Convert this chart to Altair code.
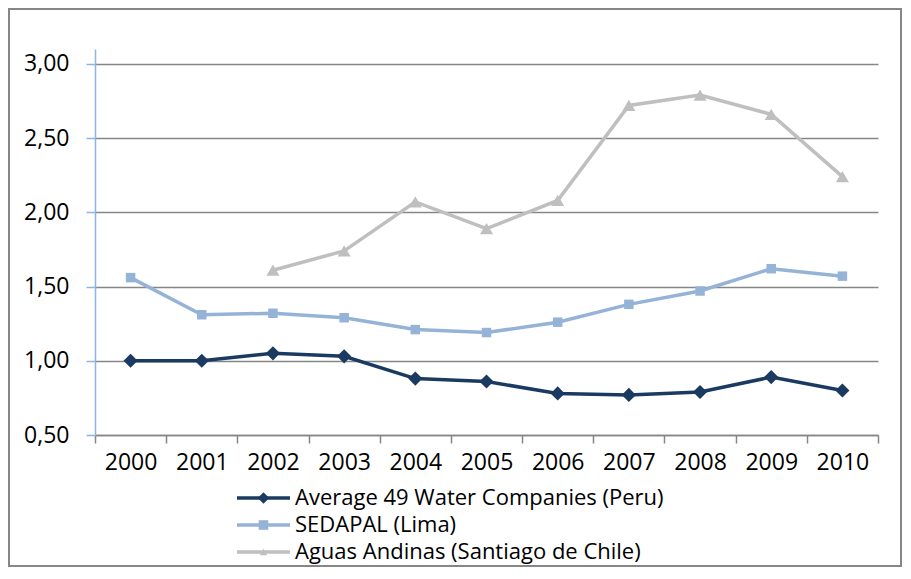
import altair as alt
import pandas as pd

years = ["2000", "2001", "2002", "2003", "2004", "2005", "2006", "2007", "2008", "2009", "2010"]
series_names = [
    "Average 49 Water Companies (Peru)",
    "SEDAPAL (Lima)",
    "Aguas Andinas (Santiago de Chile)",
]
avg49 = [1.00, 1.00, 1.05, 1.03, 0.88, 0.86, 0.78, 0.77, 0.79, 0.89, 0.80]
sedapal = [1.56, 1.31, 1.32, 1.29, 1.21, 1.19, 1.26, 1.38, 1.47, 1.62, 1.57]
aguas = [None, None, 1.61, 1.74, 2.07, 1.89, 2.08, 2.72, 2.79, 2.66, 2.24]
y_ticks = [0.5, 1.0, 1.5, 2.0, 2.5, 3.0]

colors = ["#1B3A62", "#95B3D7", "#BFBFBF"]
marker_shapes = ["diamond", "square", "triangle-up"]
marker_sizes = [200, 90, 170]
legend_marker_sizes = [130, 55, 110]

rows = []
for name, vals in zip(series_names, [avg49, sedapal, aguas]):
    for yr, v in zip(years, vals):
        rows.append({"year": yr, "series": name, "value": v})
df = pd.DataFrame(rows)
legend_df = pd.DataFrame({"series": series_names})

FONT = "Open Sans"
GRID = "#868686"
FS = 23
LFS = 22

x_enc = alt.X(
    "year:O",
    sort=years,
    bandPosition=0.5,
    scale=alt.Scale(type="band", paddingInner=0, paddingOuter=0),
    axis=alt.Axis(
        title=None, tickBand="extent", labelAngle=0, grid=False,
        domainColor=GRID, domainWidth=1.5, tickColor=GRID, tickWidth=1.5,
        tickSize=8, labelFontSize=FS, labelPadding=8, labelColor="#000000",
        labelFont=FONT,
    ),
)
y_enc = alt.Y(
    "value:Q",
    scale=alt.Scale(domain=[0.5, 3.1], nice=False, zero=False),
    axis=alt.Axis(
        title=None, values=y_ticks,
        labelExpr="replace(format(datum.value, '.2f'), '.', ',')",
        domainColor="#8DB4E2", domainWidth=1.5, tickColor="#8DB4E2",
        tickWidth=1.5, tickSize=9, grid=True, gridColor=GRID, gridWidth=1.5,
        labelFontSize=FS, labelPadding=17, labelColor="#000000", labelFont=FONT,
    ),
)
color_enc = alt.Color(
    "series:N", scale=alt.Scale(domain=series_names, range=colors), legend=None
)

base = alt.Chart(df)

lines = base.mark_line(strokeWidth=3.5).encode(x=x_enc, y=y_enc, color=color_enc)

point_layers = []
for name, shp, sz in zip(series_names, marker_shapes, marker_sizes):
    point_layers.append(
        base.mark_point(shape=shp, filled=True, size=sz, opacity=1)
        .transform_filter(alt.datum.series == name)
        .encode(x=x_enc, y=y_enc, color=color_enc)
    )

main = alt.layer(lines, *point_layers)

# legend drawn as its own small layer (rows placed by a point scale)
y_leg = alt.Y(
    "series:N",
    sort=series_names,
    scale=alt.Scale(type="point", domain=series_names, range=[449, 503], padding=0),
    axis=None,
)
leg_base = alt.Chart(legend_df)
leg_lines = leg_base.mark_rule(strokeWidth=3.5).encode(
    x=alt.value(142), x2=alt.value(195), y=y_leg, color=color_enc
)
leg_points = leg_base.mark_point(filled=True, opacity=1).encode(
    x=alt.value(168.5),
    y=y_leg,
    color=color_enc,
    shape=alt.Shape("series:N", scale=alt.Scale(domain=series_names, range=marker_shapes), legend=None),
    size=alt.Size("series:O", scale=alt.Scale(domain=series_names, range=legend_marker_sizes), legend=None),
)
leg_text = leg_base.mark_text(
    align="left", baseline="middle", fontSize=LFS, font=FONT, color="#000000"
).encode(x=alt.value(200), y=y_leg, text="series:N")
legend = alt.layer(leg_lines, leg_points, leg_text)

border = (
    alt.Chart(pd.DataFrame({"k": [0]}))
    .mark_rect(fillOpacity=0, stroke=GRID, strokeWidth=2)
    .encode(x=alt.value(-86), x2=alt.value(806), y=alt.value(-40), y2=alt.value(517))
)

chart = (
    alt.layer(border, main, legend)
    .resolve_scale(y="independent")
    .properties(
        width=783,
        height=386,
        padding={"left": 87, "top": 41, "right": 25, "bottom": 133},
        autosize=alt.AutoSizeParams(type="none"),
        background="white",
    )
    .configure_view(stroke=None)
)

chart.save("out.html", embed_options={"renderer": "svg", "actions": False})
